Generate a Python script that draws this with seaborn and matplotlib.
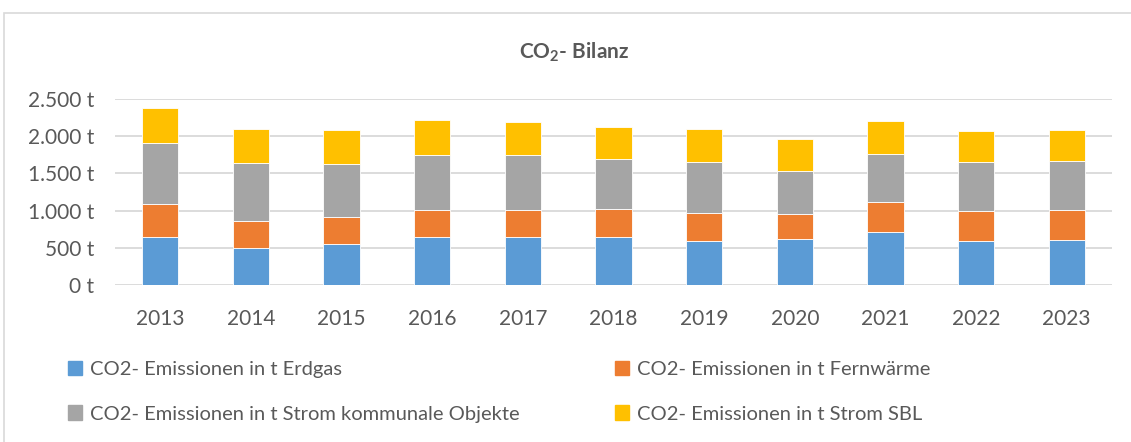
import matplotlib
matplotlib.use('Agg')
import matplotlib.pyplot as plt
import matplotlib.patches as mpatches
from matplotlib.ticker import FuncFormatter
import seaborn as sb
import numpy as np
import pandas as pd

# data (t CO2 per year)
years = ['2013', '2014', '2015', '2016', '2017', '2018', '2019', '2020', '2021', '2022', '2023']
erdgas = [644, 496, 555, 640, 644, 644, 590, 622, 711, 595, 599]
fernwaerme = [443, 363, 357, 366, 362, 376, 376, 326, 398, 393, 403]
strom_kommunal = [818, 787, 720, 747, 738, 679, 693, 581, 657, 662, 662]
strom_sbl = [474, 456, 452, 465, 447, 421, 438, 430, 439, 421, 420]

series_names = ['CO2- Emissionen in t Erdgas',
                'CO2- Emissionen in t Fernwärme',
                'CO2- Emissionen in t Strom kommunale Objekte',
                'CO2- Emissionen in t Strom SBL']
colors = ['#5B9BD5', '#ED7D31', '#A5A5A5', '#FFC000']

sb.set_theme(style='white')
plt.rcParams['font.family'] = ['Lato', 'DejaVu Sans']
textcol = '#595959'

W, H = 1131, 442
fig = plt.figure(figsize=(W / 100, H / 100), dpi=100)
ax = fig.add_axes([115 / W, 1 - 285 / H, (1112 - 115) / W, (285 - 99) / H])

# outer chart border
fig.patches.append(mpatches.Rectangle((4 / W, -0.01), 1.2, 1 - 13 / H + 0.01, transform=fig.transFigure,
                                      fill=False, edgecolor='#D9D9D9', linewidth=1.2, zorder=0))

df = pd.DataFrame({'year': years, 'Erdgas': erdgas, 'Fern': fernwaerme,
                   'Strom': strom_kommunal, 'SBL': strom_sbl})
bottom = np.zeros(len(years))
handles = []
for col, name, c in zip(['Erdgas', 'Fern', 'Strom', 'SBL'], series_names, colors):
    sb.barplot(data=df, x='year', y=col, color=c, width=0.4, bottom=bottom,
               ax=ax, saturation=1, edgecolor='white', linewidth=0.6, zorder=3)
    bottom = bottom + df[col].values
    handles.append(mpatches.Patch(color=c, label=name))

ax.set_ylim(0, 2500)
ax.set_xlim(-0.5, len(years) - 0.5)
ax.set_yticks(np.arange(0, 2501, 500))
ax.yaxis.set_major_formatter(FuncFormatter(lambda v, p: f'{int(v):,} t'.replace(',', '.')))
ax.grid(axis='y', color='#D9D9D9', linewidth=1.3, zorder=0)
for s in ax.spines.values():
    s.set_visible(False)
ax.set_xlabel('')
ax.set_ylabel('')
ax.tick_params(axis='both', length=0, labelsize=15, labelcolor=textcol)
ax.tick_params(axis='x', pad=17)
ax.tick_params(axis='y', pad=15)

fig.text(574 / W, 1 - 52 / H, r'CO$_{\mathregular{2}}$- Bilanz', ha='center', va='center',
         fontsize=15, fontweight='bold', color=textcol)

order = [handles[0], handles[2], handles[1], handles[3]]
leg = fig.legend(handles=order, labels=[h.get_label() for h in order], ncol=2,
                 loc='upper left', bbox_to_anchor=(50 / W, 1 - 343 / H), frameon=False,
                 fontsize=14.5, handlelength=0.7, handleheight=0.7, handletextpad=0.4,
                 columnspacing=4.7, labelspacing=1.35, labelcolor=textcol)

fig.savefig('out.png', dpi=100)
